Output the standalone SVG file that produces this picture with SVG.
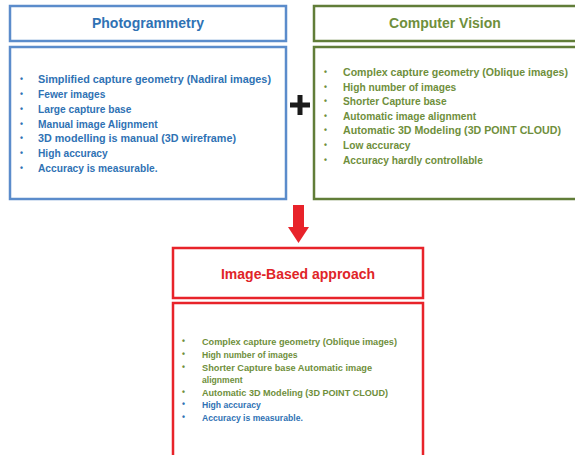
<svg xmlns="http://www.w3.org/2000/svg" width="575" height="455" viewBox="0 0 575 455">
<style>
text{font-family:"Liberation Sans",Arial,sans-serif;font-weight:bold}
.box{fill:#fff;stroke-width:2.5}
.blue{stroke:#5b8ccb}
.green{stroke:#617d38}
.red{stroke:#e8232a}
.tb{fill:#2f72b4}
.tg{fill:#6f8f3c}
.tr{fill:#e02428}
.title{font-size:14px;text-anchor:middle}
.body{font-size:10.2px}
.small{font-size:8.6px}
.bul{font-size:8.5px}
</style>
<rect width="575" height="455" fill="#fff"/>
<g id="photogrammetry">
<rect class="box blue" x="10" y="6" width="276" height="35"/>
<text class="title tb" x="148" y="28">Photogrammetry</text>
<rect class="box blue" x="10" y="47" width="276" height="152"/>
<g class="body tb">
<text class="bul" x="20" y="82">•</text><text x="38" y="83" textLength="233" lengthAdjust="spacingAndGlyphs">Simplified  capture geometry  (Nadiral images)</text>
<text class="bul" x="20" y="97">•</text><text x="38" y="98">Fewer images</text>
<text class="bul" x="20" y="112">•</text><text x="38" y="113">Large capture base</text>
<text class="bul" x="20" y="127">•</text><text x="38" y="128">Manual image  Alignment</text>
<text class="bul" x="20" y="141">•</text><text x="38" y="142" textLength="198" lengthAdjust="spacingAndGlyphs">3D modelling is manual (3D wireframe)</text>
<text class="bul" x="20" y="156">•</text><text x="38" y="157">High accuracy</text>
<text class="bul" x="20" y="171">•</text><text x="38" y="172">Accuracy is measurable.</text>
</g>
</g>
<g id="computer-vision">
<rect class="box green" x="314" y="6" width="264" height="35"/>
<text class="title tg" x="445" y="28">Computer Vision</text>
<rect class="box green" x="314" y="47" width="264" height="152"/>
<g class="body tg">
<text class="bul" x="324" y="75">•</text><text x="343" y="76" textLength="225" lengthAdjust="spacingAndGlyphs">Complex capture geometry (Oblique images)</text>
<text class="bul" x="324" y="90">•</text><text x="343" y="91">High number of images</text>
<text class="bul" x="324" y="104">•</text><text x="343" y="105">Shorter Capture base</text>
<text class="bul" x="324" y="119">•</text><text x="343" y="120">Automatic image alignment</text>
<text class="bul" x="324" y="133">•</text><text x="343" y="134" textLength="218" lengthAdjust="spacingAndGlyphs">Automatic 3D Modeling (3D POINT CLOUD)</text>
<text class="bul" x="324" y="148">•</text><text x="343" y="149">Low accuracy</text>
<text class="bul" x="324" y="163">•</text><text x="343" y="164">Accuracy hardly controllable</text>
</g>
</g>
<g id="image-based">
<rect class="box red" x="173" y="248" width="250" height="50"/>
<text class="title tr" x="298" y="279">Image-Based approach</text>
<rect class="box red" x="173" y="303" width="250" height="160"/>
<g class="small">
<text class="tg bul" x="182" y="344">•</text><text class="tg" x="202" y="345" textLength="195" lengthAdjust="spacingAndGlyphs">Complex capture  geometry (Oblique images)</text>
<text class="tg bul" x="182" y="357">•</text><text class="tg" x="202" y="358">High number  of images</text>
<text class="tg bul" x="182" y="370">•</text><text class="tg" x="202" y="371" textLength="170" lengthAdjust="spacingAndGlyphs">Shorter Capture  base Automatic image</text>
<text class="tg" x="202" y="383">alignment</text>
<text class="tg bul" x="182" y="395">•</text><text class="tg" x="202" y="396" textLength="186" lengthAdjust="spacingAndGlyphs">Automatic 3D Modeling  (3D POINT CLOUD)</text>
<text class="tb bul" x="182" y="407">•</text><text class="tb" x="202" y="408">High accuracy</text>
<text class="tb bul" x="182" y="420">•</text><text class="tb" x="202" y="421">Accuracy is measurable.</text>
</g>
</g>
<g id="connectors">
<path d="M290 105H310M300 95V115" stroke="#1a1a1a" stroke-width="5" fill="none"/>
<path d="M293 205H304V227H309L298.5 243L288 227H293Z" fill="#e8232a"/>
</g>
</svg>
